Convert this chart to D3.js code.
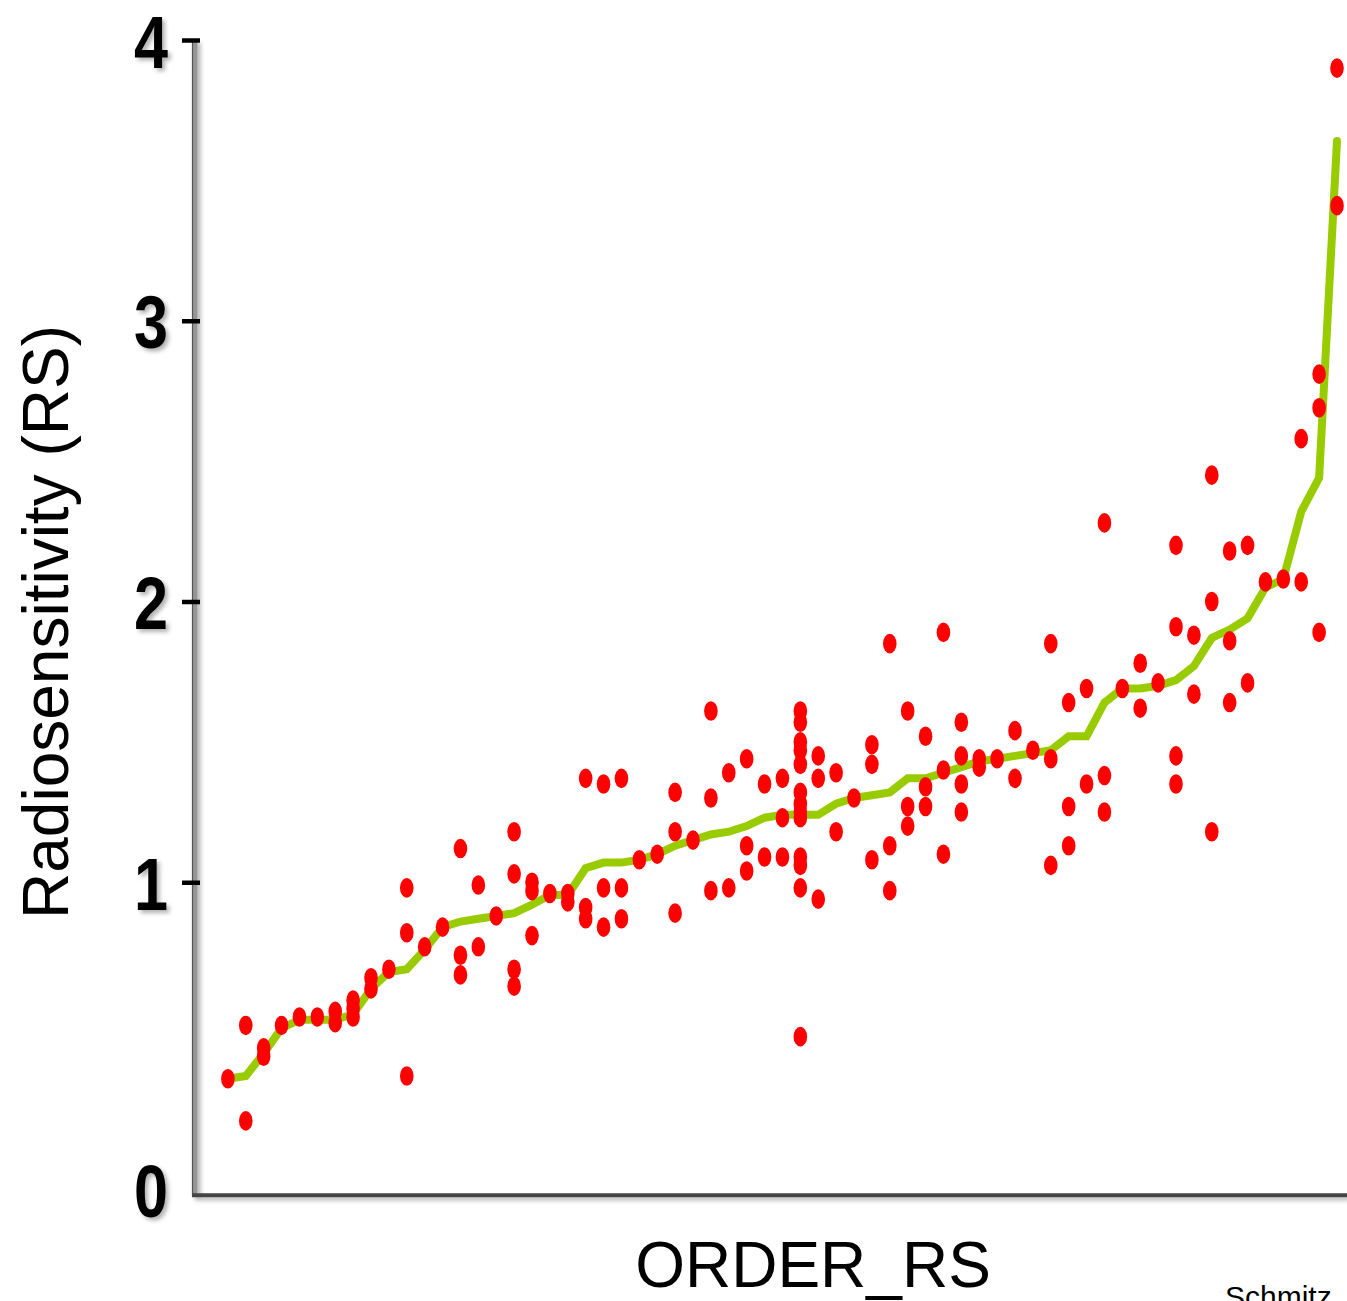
<!DOCTYPE html>
<html>

<head>
    <meta charset="utf-8">
    <title>Radiosensitivity by order</title>
    <script type="text/javascript" src="https://cdn.jsdelivr.net/npm/d3@7"></script>
    <style>
        body { margin: 0; background: #fff; }
        svg { display: block; }
    </style>
</head>

<body>
    <svg id="rsSvg"></svg>
</body>

<script>
    // rank of each sample (x) and the mean RS of that rank (green line)
    let order_rs = d3.range(1, 64);
    let mean_rs = [
        0.30, 0.31, 0.39, 0.48, 0.51, 0.51, 0.51, 0.53, 0.62, 0.68,
        0.69, 0.76, 0.84, 0.86, 0.87, 0.88, 0.89, 0.92, 0.955, 0.955,
        1.05, 1.07, 1.07, 1.08, 1.10, 1.13, 1.15, 1.17, 1.18, 1.20,
        1.23, 1.24, 1.24, 1.24, 1.28, 1.30, 1.31, 1.32, 1.37, 1.37,
        1.39, 1.41, 1.43, 1.44, 1.45, 1.46, 1.47, 1.52, 1.52, 1.64,
        1.69, 1.69, 1.70, 1.72, 1.77, 1.87, 1.90, 1.94, 2.05, 2.08,
        2.32, 2.44, 3.64
    ];
    // single measurements for each rank (red dots)
    let sample_rs = [
        [0.30],
        [0.49, 0.15],
        [0.41, 0.38],
        [0.49],
        [0.52],
        [0.52],
        [0.54, 0.50],
        [0.58, 0.55, 0.52],
        [0.66, 0.62],
        [0.69],
        [0.98, 0.82, 0.31],
        [0.77],
        [0.84],
        [1.12, 0.74, 0.67],
        [0.99, 0.77],
        [0.88],
        [1.18, 1.03, 0.69, 0.63],
        [1.00, 0.97, 0.81],
        [0.96],
        [0.96, 0.93],
        [1.37, 0.91, 0.87],
        [1.35, 0.98, 0.84],
        [1.37, 0.98, 0.87],
        [1.08],
        [1.10],
        [1.32, 1.18, 0.89],
        [1.15],
        [1.61, 1.30, 0.97],
        [1.39, 0.98],
        [1.44, 1.13, 1.04],
        [1.35, 1.09],
        [1.37, 1.23, 1.09],
        [1.61, 1.57, 1.50, 1.47, 1.42, 1.32, 1.28, 1.25, 1.23, 1.09, 1.06, 0.98, 0.45],
        [1.45, 1.37, 0.94],
        [1.39, 1.18],
        [1.30],
        [1.49, 1.42, 1.08],
        [1.85, 1.13, 0.97],
        [1.61, 1.27, 1.20],
        [1.52, 1.34, 1.27],
        [1.89, 1.40, 1.10],
        [1.57, 1.45, 1.35, 1.25],
        [1.44, 1.41],
        [1.44],
        [1.54, 1.37],
        [1.47],
        [1.85, 1.44, 1.06],
        [1.64, 1.27, 1.13],
        [1.69, 1.35],
        [2.28, 1.38, 1.25],
        [1.69],
        [1.78, 1.62],
        [1.71],
        [2.20, 1.91, 1.45, 1.35],
        [1.88, 1.67],
        [2.45, 2.00, 1.18],
        [2.18, 1.86, 1.64],
        [2.20, 1.71],
        [2.07],
        [2.08],
        [2.58, 2.07],
        [2.81, 2.69, 1.89],
        [3.90, 3.41]
    ];
    let y_ticks = [1, 2, 3, 4];
    let x_title = "ORDER_RS", y_title = "Radiosensitivity (RS)", credit = "Schmitz";
</script>

<script>
    let SVGWIDTH = 1347,
        SVGHEIGHT = 1301;
    let svg_margin = { top: 40, right: 10, bottom: 106, left: 195 };
    let y_floor = -0.115; // the x axis sits a little below zero in the original
    let numFont = "'Liberation Sans', Arial, Helvetica, sans-serif",
        textFont = "'Liberation Sans', Arial, Helvetica, sans-serif";

    let svg = d3.select("#rsSvg").attr("width", SVGWIDTH).attr("height", SVGHEIGHT)
        .style("background-color", "#fff");

    let defs = svg.append("defs");
    // shadow for the axis lines (lines have a flat bbox, so use user space)
    defs.append("filter").attr("id", "shadowLine")
        .attr("filterUnits", "userSpaceOnUse")
        .attr("x", 0).attr("y", 0).attr("width", SVGWIDTH).attr("height", SVGHEIGHT)
        .append("feDropShadow")
        .attr("dx", 3).attr("dy", 3).attr("stdDeviation", 2)
        .attr("flood-color", "#000").attr("flood-opacity", 0.3);
    // shadow for the tick digits
    defs.append("filter").attr("id", "shadowText")
        .attr("x", "-30%").attr("y", "-30%").attr("width", "180%").attr("height", "180%")
        .append("feDropShadow")
        .attr("dx", 3).attr("dy", 3).attr("stdDeviation", 2)
        .attr("flood-color", "#000").attr("flood-opacity", 0.3);

    let xScale = d3.scaleLinear().domain([0, 63]).range([210, 1337]);
    let yScale = d3.scaleLinear().domain([0, 4]).range([1163, svg_margin.top]);

    let points = [];
    sample_rs.forEach(function (vals, i) {
        vals.forEach(v => points.push({ x: order_rs[i], y: v }));
    });
    let meanLine = order_rs.map((o, i) => ({ x: o, y: mean_rs[i] }));

    // axes lines
    let yBase = yScale(y_floor);
    let axes = svg.append("g").attr("filter", "url(#shadowLine)");
    axes.append("line")
        .attr("x1", svg_margin.left).attr("x2", svg_margin.left)
        .attr("y1", yScale(4)).attr("y2", yBase)
        .attr("stroke", "#959595").attr("stroke-width", 5);
    axes.append("line")
        .attr("x1", svg_margin.left - 2.5).attr("x2", svg_margin.left - 2.5)
        .attr("y1", yScale(4)).attr("y2", yBase)
        .attr("stroke", "#555").attr("stroke-width", 1.2);
    axes.append("line")
        .attr("x1", svg_margin.left - 3).attr("x2", SVGWIDTH)
        .attr("y1", yBase).attr("y2", yBase)
        .attr("stroke", "#444").attr("stroke-width", 4);

    // y axis ticks + labels (condensed bold digits)
    let yAxis = svg.append("g")
        .attr("transform", "translate(" + (svg_margin.left + 5) + ",0)")
        .call(d3.axisLeft(yScale).tickValues(y_ticks).tickSize(18).tickPadding(14)
            .tickFormat(d3.format("d")));
    yAxis.select(".domain").remove();
    yAxis.selectAll(".tick line").attr("stroke", "#000").attr("stroke-width", 4.5);
    yAxis.selectAll(".tick text")
        .attr("fill", "#000")
        .attr("dy", "0.36em")
        .attr("textLength", 34).attr("lengthAdjust", "spacingAndGlyphs")
        .style("font-family", numFont).style("font-weight", "bold")
        .style("font-size", "75px")
        .attr("filter", "url(#shadowText)");
    // the zero label sits on the baseline
    yAxis.append("text")
        .attr("x", -32).attr("y", yScale(y_floor) - 5)
        .attr("dy", "0.36em")
        .attr("text-anchor", "end").attr("fill", "#000")
        .attr("textLength", 34).attr("lengthAdjust", "spacingAndGlyphs")
        .style("font-family", numFont).style("font-weight", "bold")
        .style("font-size", "75px")
        .attr("filter", "url(#shadowText)")
        .text("0");

    // mean line
    let valueline = d3.line()
        .x(d => xScale(d.x))
        .y(d => yScale(d.y));
    svg.append("path")
        .datum(meanLine)
        .attr("d", valueline)
        .attr("fill", "none")
        .attr("stroke", "#99cc00")
        .attr("stroke-width", 8)
        .attr("stroke-linejoin", "miter")
        .attr("stroke-linecap", "round");

    // dots
    svg.append("g").selectAll(".dot")
        .data(points)
        .enter().append("ellipse")
        .attr("class", "dot")
        .attr("cx", d => xScale(d.x))
        .attr("cy", d => yScale(d.y))
        .attr("rx", 6.8).attr("ry", 9.8)
        .attr("fill", "#ff0000");

    // titles
    svg.append("text")
        .attr("transform", "translate(68," + 622 + ") rotate(-90)")
        .attr("text-anchor", "middle")
        .style("font-family", textFont).style("font-size", "64px")
        .attr("fill", "#000")
        .text(y_title);
    svg.append("text")
        .attr("x", 813).attr("y", 1287)
        .attr("text-anchor", "middle")
        .style("font-family", textFont).style("font-size", "64px")
        .attr("fill", "#000")
        .text(x_title);
    svg.append("text")
        .attr("x", 1225).attr("y", 1307)
        .style("font-family", textFont).style("font-size", "30px")
        .attr("fill", "#000")
        .text(credit);
</script>

</html>
